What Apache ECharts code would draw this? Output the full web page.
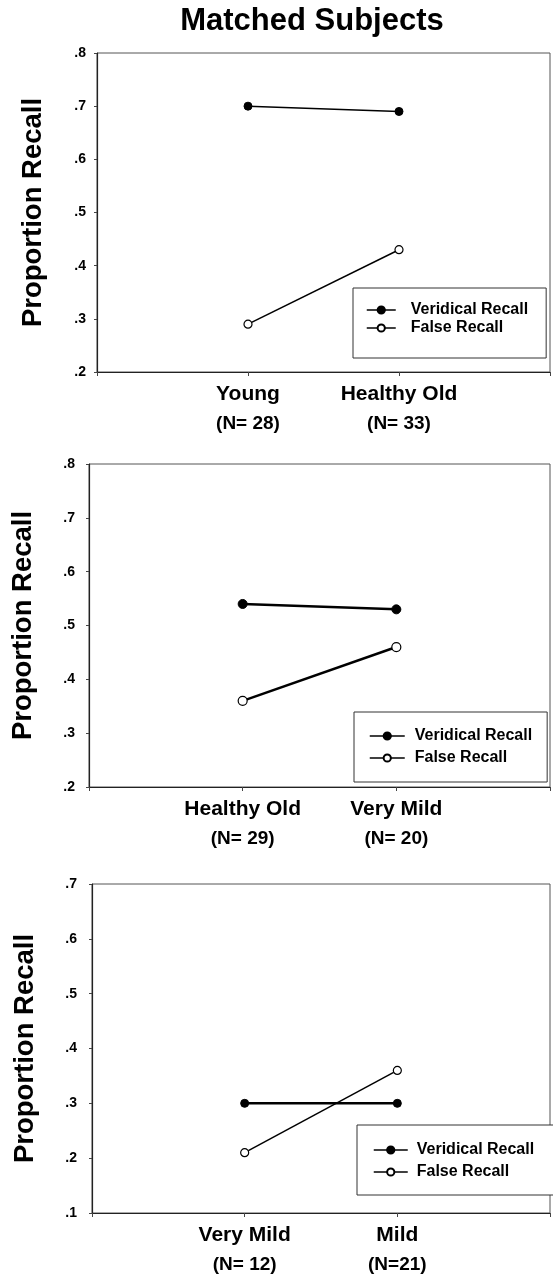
<!DOCTYPE html>
<html>
<head>
<meta charset="utf-8">
<script src="https://cdn.jsdelivr.net/npm/echarts@6/dist/echarts.min.js"></script>
<style>
  html, body { margin: 0; padding: 0; background: #fff; }
  #chart { width: 553px; height: 1280px; }
</style>
</head>
<body>
<div id="chart"></div>
<script>
// Figure title and shared labels
const figureTitle = 'Matched Subjects';
const yTitle = 'Proportion Recall';
const seriesNames = ['Veridical Recall', 'False Recall'];

// Panel 1: Young vs Healthy Old
const panel1Groups = ['Young', 'Healthy Old'];
const panel1NLabels = ['(N= 28)', '(N= 33)'];
const panel1Veridical = [0.70, 0.69];
const panel1False = [0.29, 0.43];
const panel1YRange = [0.2, 0.8];

// Panel 2: Healthy Old vs Very Mild
const panel2Groups = ['Healthy Old', 'Very Mild'];
const panel2NLabels = ['(N= 29)', '(N= 20)'];
const panel2Veridical = [0.54, 0.53];
const panel2False = [0.36, 0.46];
const panel2YRange = [0.2, 0.8];

// Panel 3: Very Mild vs Mild
const panel3Groups = ['Very Mild', 'Mild'];
const panel3NLabels = ['(N= 12)', '(N=21)'];
const panel3Veridical = [0.30, 0.30];
const panel3False = [0.21, 0.36];
const panel3YRange = [0.1, 0.7];

const FONT = 'Liberation Sans, Arial, Helvetica, sans-serif';

// Layout of each panel (plot box, label gaps, line weights, legend box)
const panels = [
  {
    groups: panel1Groups, nLabels: panel1NLabels,
    veridical: panel1Veridical, falseRecall: panel1False, yRange: panel1YRange,
    grid: { left: 97, top: 53, width: 454, height: 319 },
    labelMargin: 11, nameGap: 50, lineWidth: [1.5, 1.5], symbolSize: 8,
    legend: { left: 353, top: 288, padding: [14, 18, 22, 13], itemGap: 2, itemWidth: 29, textPad: 10 }
  },
  {
    groups: panel2Groups, nLabels: panel2NLabels,
    veridical: panel2Veridical, falseRecall: panel2False, yRange: panel2YRange,
    grid: { left: 89, top: 464, width: 466, height: 323 },
    labelMargin: 14, nameGap: 52, lineWidth: [2.5, 2.5], symbolSize: 9,
    legend: { left: 354, top: 712, padding: [16, 15, 16, 15], itemGap: 6, itemWidth: 35, textPad: 5 }
  },
  {
    groups: panel3Groups, nLabels: panel3NLabels,
    veridical: panel3Veridical, falseRecall: panel3False, yRange: panel3YRange,
    grid: { left: 92, top: 884, width: 468, height: 329 },
    labelMargin: 15, nameGap: 53, lineWidth: [2.5, 1.5], symbolSize: 8,
    legend: { left: 357, top: 1125, padding: [17, 40, 15, 16], itemGap: 6, itemWidth: 34, textPad: 4 }
  }
];

const grids = [], xAxes = [], yAxes = [], series = [], legends = [];

panels.forEach((p, i) => {
  grids.push(Object.assign({
    show: true, borderColor: '#555', borderWidth: 1, containLabel: false
  }, p.grid));

  // categories sit at 1/3 and 2/3 of the plot width
  const cats = [''].concat(p.groups).concat(['']);
  const nByCat = {};
  p.groups.forEach((g, k) => { nByCat[g] = p.nLabels[k]; });

  xAxes.push({
    type: 'category', gridIndex: i, data: cats, boundaryGap: false,
    axisLine: { show: true, lineStyle: { color: '#222', width: 1.2 } },
    axisTick: { show: true, length: 4, lineStyle: { color: '#444' } },
    axisLabel: {
      interval: 0, margin: 9,
      formatter: v => v ? '{a|' + v + '}\n{b|' + nByCat[v] + '}' : '',
      rich: {
        a: { fontSize: 21, fontWeight: 'bold', fontFamily: FONT, color: '#000', lineHeight: 26 },
        b: { fontSize: 19, fontWeight: 'bold', fontFamily: FONT, color: '#000', lineHeight: 34 }
      }
    },
    splitLine: { show: false }
  });

  yAxes.push({
    type: 'value', gridIndex: i, min: p.yRange[0], max: p.yRange[1], interval: 0.1,
    name: yTitle, nameLocation: 'middle', nameGap: p.nameGap, nameRotate: 90,
    nameTextStyle: { fontSize: 27.5, fontWeight: 'bold', fontFamily: FONT, color: '#000' },
    axisLine: { show: true, lineStyle: { color: '#222', width: 1.2 } },
    axisTick: { show: true, length: 3, inside: false, lineStyle: { color: '#444' } },
    axisLabel: {
      margin: p.labelMargin, fontSize: 14, fontWeight: 'bold', fontFamily: FONT, color: '#000',
      formatter: v => v.toFixed(1).slice(1)
    },
    splitLine: { show: false }
  });

  const toPoints = vals => vals.map((v, k) => [p.groups[k], v]);

  series.push({
    name: seriesNames[0], type: 'line', xAxisIndex: i, yAxisIndex: i,
    data: toPoints(p.veridical),
    symbol: 'circle', symbolSize: p.symbolSize, showAllSymbol: true,
    lineStyle: { color: '#000', width: p.lineWidth[0] },
    itemStyle: { color: '#000', borderColor: '#000', borderWidth: 1 },
    z: 3
  });
  series.push({
    name: seriesNames[1], type: 'line', xAxisIndex: i, yAxisIndex: i,
    data: toPoints(p.falseRecall),
    symbol: 'circle', symbolSize: p.symbolSize, showAllSymbol: true,
    lineStyle: { color: '#000', width: p.lineWidth[1] },
    itemStyle: { color: '#fff', borderColor: '#000', borderWidth: 1.2 },
    z: 3
  });

  const L = p.legend;
  legends.push({
    data: seriesNames, orient: 'vertical',
    left: L.left, top: L.top, padding: L.padding, itemGap: L.itemGap,
    itemWidth: L.itemWidth, itemHeight: 9,
    borderColor: '#333', borderWidth: 1, backgroundColor: '#fff',
    selectedMode: false, z: 10,
    lineStyle: { color: '#000', width: 1.5 },
    textStyle: {
      fontSize: 16, fontWeight: 'bold', fontFamily: FONT, color: '#000',
      lineHeight: 16, padding: [0, 0, 0, L.textPad]
    }
  });
});

const chart = echarts.init(document.getElementById('chart'), null, { renderer: 'canvas' });
chart.setOption({
  animation: false,
  backgroundColor: '#fff',
  title: {
    text: figureTitle, left: 312, top: 6, textAlign: 'center', padding: 0,
    textStyle: { fontSize: 31, fontWeight: 'bold', fontFamily: FONT, color: '#000' }
  },
  grid: grids,
  xAxis: xAxes,
  yAxis: yAxes,
  legend: legends,
  series: series
});
</script>
</body>
</html>
